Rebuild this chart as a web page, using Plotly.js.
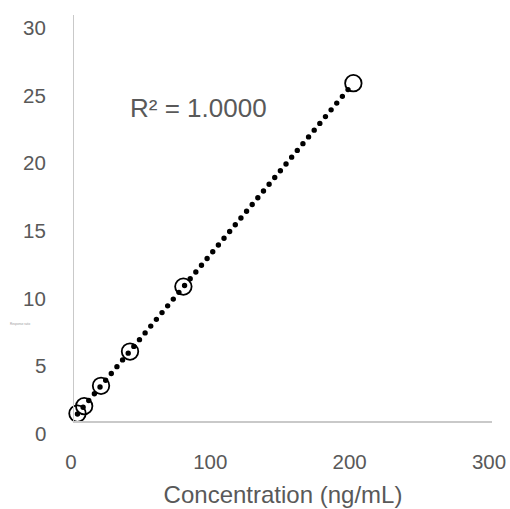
<!DOCTYPE html>
<html>
<head>
<meta charset="utf-8">
<script src="https://cdn.plot.ly/plotly-3.0.1.min.js"></script>
<style>
html, body { margin: 0; padding: 0; background: #fff; }
#chart { width: 510px; height: 509px; }
.scatterlayer .trace path.js-line { stroke-linecap: round; }
</style>
</head>
<body>
<div id="chart"></div>
<script>
// Data
var concentration = [2.5, 7.3, 19.4, 40.2, 78.5, 200.5];   // ng/mL
var response = [0.55, 1.1, 2.6, 5.13, 9.93, 24.96];
var xTickValues = [0, 100, 200, 300];
var yTickValues = [0, 5, 10, 15, 20, 25, 30];
var r2Label = 'R² = 1.0000';
var xTitle = 'Concentration (ng/mL)';
var yTitle = 'Response ratio';

// Linear least-squares trendline from the data
var n = concentration.length, sx = 0, sy = 0, sxx = 0, sxy = 0;
for (var i = 0; i < n; i++) {
  sx += concentration[i]; sy += response[i];
  sxx += concentration[i] * concentration[i];
  sxy += concentration[i] * response[i];
}
var slope = (n * sxy - sx * sy) / (n * sxx - sx * sx);
var intercept = (sy - slope * sx) / n;
var xMin = Math.min.apply(null, concentration), xMax = Math.max.apply(null, concentration);
var trendX = [xMin, xMax];
var trendY = [intercept + slope * xMin, intercept + slope * xMax];

var grey = '#595959';
var font = 'Liberation Sans, Arial, sans-serif';

var traces = [
  {
    x: concentration, y: response, type: 'scatter', mode: 'markers', cliponaxis: false,
    marker: { symbol: 'circle', size: 16.5, color: 'rgba(0,0,0,0)', line: { color: '#000', width: 1.8 } },
    hoverinfo: 'skip', showlegend: false
  },
  {
    x: trendX, y: trendY, type: 'scatter', mode: 'lines', cliponaxis: false,
    line: { color: '#000', width: 5.4, dash: '0px,8.8px' },
    hoverinfo: 'skip', showlegend: false
  }
];

// y tick labels (drawn slightly below their tick positions, as in the reference)
var annotations = yTickValues.map(function (v) {
  return {
    xref: 'paper', yref: 'y', x: -0.0622, y: v, xanchor: 'right', yanchor: 'middle',
    yshift: -12.5, text: String(v), showarrow: false,
    font: { size: 20.5, color: grey, family: font }
  };
});
annotations.push({
  xref: 'x', yref: 'y', x: 39, y: 23.1, xanchor: 'left', yanchor: 'middle',
  text: r2Label, showarrow: false, font: { size: 26, color: grey, family: font }
});
annotations.push({
  xref: 'paper', yref: 'paper', x: -0.157, y: 0.24, xanchor: 'left', yanchor: 'middle',
  text: yTitle, showarrow: false, font: { size: 3, color: '#999', family: font }
});

var layout = {
  width: 510, height: 509,
  margin: { l: 74, r: 18, t: 15, b: 87.5, pad: 0 },
  paper_bgcolor: '#fff', plot_bgcolor: '#fff',
  showlegend: false,
  font: { family: font, color: grey },
  xaxis: {
    range: [0, 300], tickvals: xTickValues, ticktext: xTickValues.map(String),
    showgrid: false, zeroline: false, showline: true, linecolor: '#c9c9c9', linewidth: 1.5,
    ticks: '', tickfont: { size: 20.5, color: grey, family: font },
    ticklabelshift: -3, ticklabelstandoff: 22,
    title: { text: xTitle, font: { size: 24, color: grey, family: font }, standoff: 14 },
    fixedrange: true
  },
  yaxis: {
    range: [0, 30], tickvals: yTickValues,
    showticklabels: false,
    showgrid: false, zeroline: false, showline: true, linecolor: '#c9c9c9', linewidth: 1.5,
    ticks: '', fixedrange: true
  },
  annotations: annotations
};

Plotly.newPlot('chart', traces, layout, { displayModeBar: false, staticPlot: true });
</script>
</body>
</html>
